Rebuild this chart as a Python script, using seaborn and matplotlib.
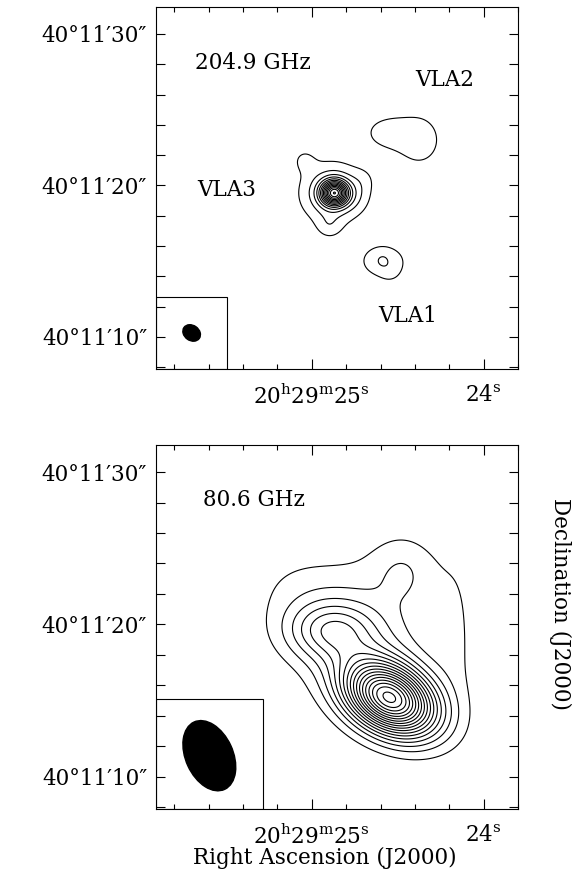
import numpy as np
import matplotlib
matplotlib.use("Agg")
import matplotlib.pyplot as plt
from matplotlib.patches import Ellipse, Rectangle
import seaborn as sns

# ---------------- data ----------------
ARCSEC_PER_RA_SEC = 15 * np.cos(np.deg2rad(40 + 11 / 60 + 20 / 3600))
ra_major_sec = [25.0, 24.0]
ra_major_labels = [r"$20^{\rm h}29^{\rm m}25^{\rm s}$", r"$24^{\rm s}$"]
ra_minor_sec = [23.8, 24.2, 24.4, 24.6, 24.8, 25.2, 25.4, 25.6, 25.8]
dec_major_arcsec = [10, 20, 30]
dec_major_labels = ["40°11′10″", "40°11′20″", "40°11′30″"]
dec_minor_arcsec = [8, 12, 14, 16, 18, 22, 24, 26, 28]

# emission components, x = arcsec east of 24s, y = arcsec of dec beyond 40°11'
hi_amp = [11.0, 3.0, 0.9, 1.0, 0.5, 0.6, 1.25, 1.4, 1.5, 0.65, 0.4]
hi_x = [9.95, 10.1, 12.0, 10.3, 8.0, 8.6, 6.6, 4.3, 6.7, 6.75, 6.2]
hi_y = [19.5, 19.5, 21.7, 17.3, 20.4, 19.3, 23.5, 23.0, 15.0, 15.05, 14.2]
hi_sa = [0.6, 1.5, 0.6, 0.6, 0.6, 0.7, 1.1, 1.4, 1.4, 0.4, 0.5]
hi_sb = [0.55, 1.4, 0.6, 0.6, 0.6, 0.7, 0.8, 1.6, 1.0, 0.4, 0.5]
hi_pa = [0, 0, 0, 0, 0, 0, 0, 0, 0, 0, 0]
hi_levels = list(range(1, 16))

lo_amp = [16.9, 2.6, 4.0, 0.45, 1.0, 1.0, 0.8]
lo_x = [6.25, 8.0, 10.2, 12.5, 5.4, 5.5, 1.8]
lo_y = [15.13, 18.5, 19.6, 22.5, 23.3, 23.5, 20.0]
lo_sa = [2.2, 4.0, 2.0, 2.5, 1.2, 2.6, 1.1]
lo_sb = [1.45, 2.5, 1.3, 1.8, 1.3, 2.6, 3.5]
lo_pa = [28, 35, 0, 0, 0, 0, 0]
lo_levels = list(range(1, 19))

hi_beam = dict(x=19.47, y=10.26, major=1.25, minor=1.0, pa=35)
lo_beam = dict(x=18.29, y=11.38, major=4.87, minor=3.16, pa=65)

freq_labels = ["204.9 GHz", "80.6 GHz"]
source_names = ["VLA1", "VLA2", "VLA3"]

# ---------------- style ----------------
sns.set_theme(style="ticks")
plt.rcParams["font.family"] = ["DejaVu Serif"]
plt.rcParams["mathtext.fontset"] = "dejavuserif"
for k in ["text.color", "axes.labelcolor", "xtick.color", "ytick.color", "axes.edgecolor"]:
    plt.rcParams[k] = "black"
FS = 15.5


def field(u, v, amp, xs, ys, sa, sb, pa):
    z = np.zeros_like(u)
    for a, x0, y0, s1, s2, p in zip(amp, xs, ys, sa, sb, pa):
        t = np.deg2rad(p)
        du, dv = u - x0, v - y0
        r1 = du * np.cos(t) + dv * np.sin(t)
        r2 = -du * np.sin(t) + dv * np.cos(t)
        z += a * np.exp(-0.5 * ((r1 / s1) ** 2 + (r2 / s2) ** 2))
    return z


XL = (21.88, -1.97)
YL = (7.88, 31.78)
gu, gv = np.meshgrid(np.linspace(-3, 23, 700), np.linspace(7, 33, 700))

fig = plt.figure(figsize=(5.87, 8.90), dpi=100)
ax1 = fig.add_axes([155.5 / 587, (890 - 369) / 890, 362.5 / 587, 362 / 890])
ax2 = fig.add_axes([155.5 / 587, (890 - 809) / 890, 362.5 / 587, 364 / 890])

panels = [
    (ax1, (hi_amp, hi_x, hi_y, hi_sa, hi_sb, hi_pa), hi_levels, hi_beam, 17.1, 12.62),
    (ax2, (lo_amp, lo_x, lo_y, lo_sa, lo_sb, lo_pa), lo_levels, lo_beam, 14.74, 15.07),
]

for ax, comps, levels, beam, box_x, box_y in panels:
    z = field(gu, gv, *comps)
    ax.contour(gu, gv, z, levels=levels, colors="black", linewidths=0.8)
    ax.set_xlim(*XL)
    ax.set_ylim(*YL)
    ax.add_patch(Rectangle((box_x, YL[0]), XL[0] - box_x, box_y - YL[0],
                           fill=False, lw=0.8, ec="black", zorder=3))
    ax.add_patch(Ellipse((beam["x"], beam["y"]), beam["major"], beam["minor"],
                         angle=beam["pa"], fc="black", ec="black", zorder=4))
    ax.set_xticks([(s - 24) * ARCSEC_PER_RA_SEC for s in ra_major_sec])
    ax.set_xticklabels(ra_major_labels, fontsize=FS)
    ax.set_xticks([(s - 24) * ARCSEC_PER_RA_SEC for s in ra_minor_sec], minor=True)
    ax.set_yticks(dec_major_arcsec)
    ax.set_yticklabels(dec_major_labels, fontsize=FS)
    ax.set_yticks(dec_minor_arcsec, minor=True)
    ax.tick_params(which="both", direction="in", top=True, right=True,
                   color="black", width=0.8)
    ax.tick_params(axis="x", which="major", length=7.5, pad=11)
    ax.tick_params(axis="x", which="minor", length=3.5)
    ax.tick_params(axis="y", which="both", length=6.5, pad=6)
    for s in ax.spines.values():
        s.set_color("black")
        s.set_linewidth(0.8)

ax1.text(0.109, 0.845, freq_labels[0], transform=ax1.transAxes, fontsize=FS, va="center")
ax1.text(0.716, 0.798, source_names[1], transform=ax1.transAxes, fontsize=FS, va="center")
ax1.text(0.114, 0.494, source_names[2], transform=ax1.transAxes, fontsize=FS, va="center")
ax1.text(0.614, 0.146, source_names[0], transform=ax1.transAxes, fontsize=FS, va="center")
ax2.text(0.131, 0.849, freq_labels[1], transform=ax2.transAxes, fontsize=FS, va="center")

fig.text(325 / 587, 1 - 858 / 890, "Right Ascension (J2000)", fontsize=FS,
         ha="center", va="center")
fig.text(560 / 587, 1 - 604 / 890, "Declination (J2000)", fontsize=FS,
         ha="center", va="center", rotation=270)

fig.savefig("out.png", dpi=100)
